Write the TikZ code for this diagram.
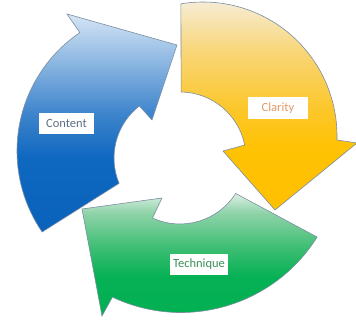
\documentclass[tikz,border=0pt]{standalone}
\usepackage{fontspec}
\setmainfont{Carlito}
\usetikzlibrary{shadings,calc}

% colours of the three cycle arrows
\definecolor{edgegray}{HTML}{7A8EA2}
\definecolor{bDark}{HTML}{0A62BA}
\definecolor{bDeep}{HTML}{0F68C0}
\definecolor{bMid}{HTML}{3D84CC}
\definecolor{bLight}{HTML}{D5E5F5}
\definecolor{yDark}{HTML}{FFC000}
\definecolor{yDeep}{HTML}{FFC204}
\definecolor{yMid}{HTML}{FCC832}
\definecolor{yPale}{HTML}{F8D77E}
\definecolor{yLight}{HTML}{F6EFDF}
\definecolor{gDark}{HTML}{00AF50}
\definecolor{gDeep}{HTML}{06B155}
\definecolor{gMid}{HTML}{3BBD72}
\definecolor{gPale}{HTML}{8FD3A8}
\definecolor{gLight}{HTML}{DCEFE3}
\definecolor{txtBlue}{HTML}{5F6F86}
\definecolor{txtOrange}{HTML}{E09A6A}
\definecolor{txtGreen}{HTML}{3D8F5A}

% vertical gradients: the path's bounding box spans 25bp..75bp
\pgfdeclareverticalshading{blueflow}{100bp}{color(0bp)=(bDark); color(25bp)=(bDark);
  color(42bp)=(bDeep); color(52bp)=(bMid); color(75bp)=(bLight); color(100bp)=(bLight)}
\pgfdeclareverticalshading{yellowflow}{100bp}{color(0bp)=(yDark); color(25bp)=(yDark);
  color(40bp)=(yDeep); color(50bp)=(yMid); color(63bp)=(yPale); color(75bp)=(yLight); color(100bp)=(yLight)}
\pgfdeclareverticalshading{greenflow}{100bp}{color(0bp)=(gDark); color(25bp)=(gDark);
  color(45bp)=(gDeep); color(55bp)=(gMid); color(68bp)=(gPale); color(75bp)=(gLight); color(100bp)=(gLight)}

\tikzset{
  cyclearrow/.style={draw=edgegray, line width=0.6pt, line join=miter},
  tagbox/.style={fill=white, inner sep=0pt, minimum height=21pt,
    font=\fontsize{12.5}{14}\selectfont}
}

\begin{document}
\begin{tikzpicture}[x=1pt, y=1pt]
\useasboundingbox (0,0) rectangle (356,320);

% centre of the hole and the centres of the three outer arcs
\coordinate (hub) at (180,162);
\coordinate (cb) at (160,169);
\coordinate (cy) at (203,184);
\coordinate (cg) at (181,168);

% Content arrow (blue), rising on the left
\path[cyclearrow, shading=blueflow]
  ($(cb)+(214.5:143)$) arc[start angle=214.5, end angle=124.1, radius=143]
  -- (67,306) -- (177,275) -- (152,200)
  -- ($(hub)+(128:66)$) arc[start angle=128, end angle=202.6, radius=66]
  -- cycle;
% Clarity arrow (yellow), falling on the right
\path[cyclearrow, shading=yellowflow]
  ($(cy)+(99.5:134)$) arc[start angle=99.5, end angle=-1.7, radius=134]
  -- (357,177) -- (275,110) -- (223,169)
  -- ($(hub)+(11.3:66)$) arc[start angle=11.3, end angle=89, radius=66]
  -- cycle;
% Technique arrow (green), turning along the bottom
\path[cyclearrow, shading=greenflow]
  ($(cg)+(-32:160.5)$) arc[start angle=-32, end angle=-115.3, radius=160.5]
  -- (102,4) -- (82,111) -- (162,122)
  -- ($(hub)+(-114.6:66)$) arc[start angle=-114.6, end angle=-32.5, radius=66]
  -- cycle;

% labels
\node[tagbox, minimum width=55pt, text=txtBlue] (content) at (66.5,196.5) {Content};
\node[tagbox, minimum width=60pt, minimum height=22pt, text=txtOrange] (clarity) at (278,212) {Clarity};
\node[tagbox, minimum width=58pt, text=txtGreen] (technique) at (199,55.5) {Technique};
\end{tikzpicture}
\end{document}
